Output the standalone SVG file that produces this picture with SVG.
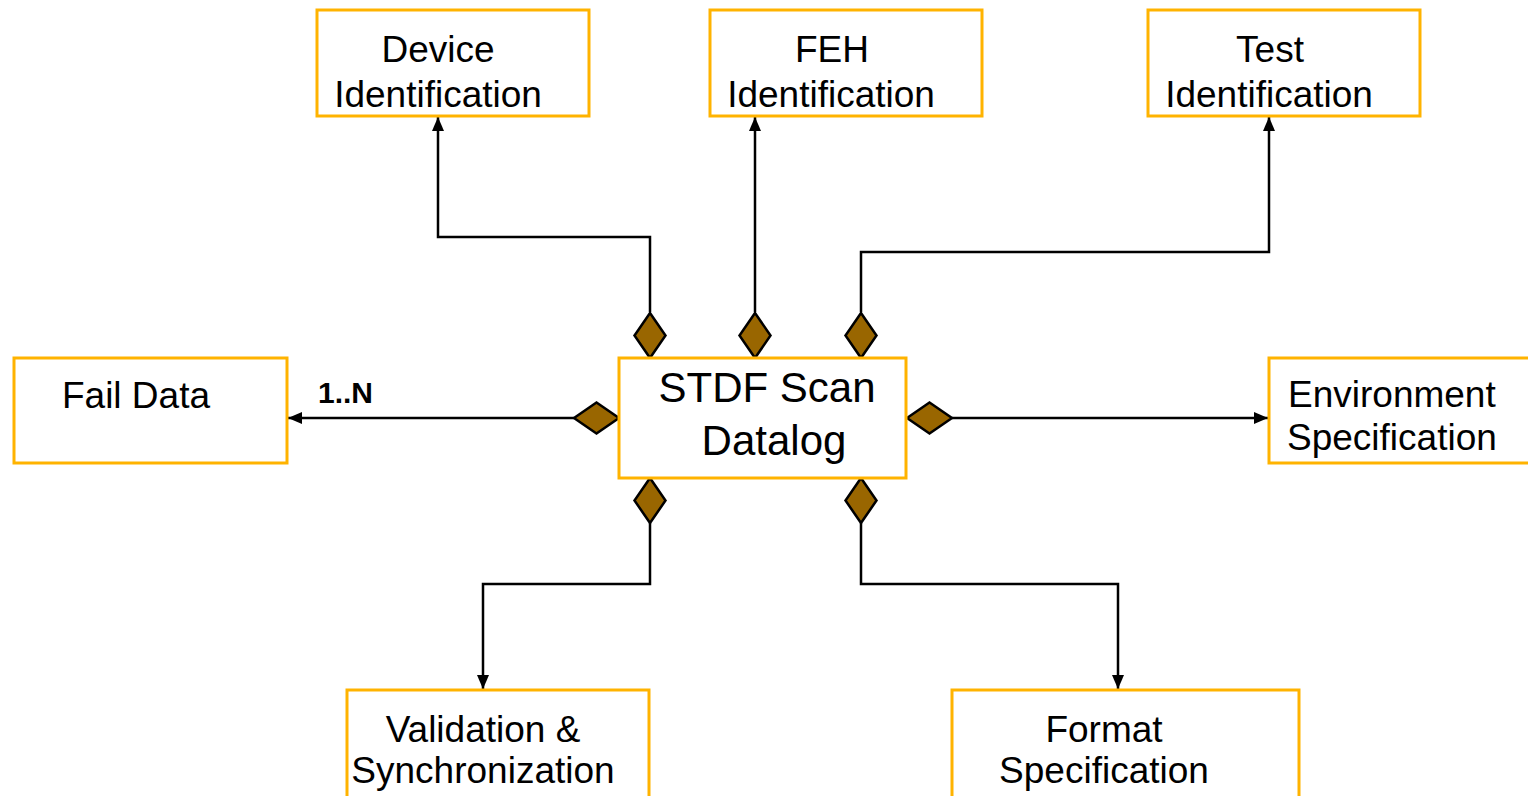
<svg xmlns="http://www.w3.org/2000/svg" width="1528" height="796" viewBox="0 0 1528 796">
<style>
.box{fill:#fff;stroke:#FFB300;stroke-width:3}
.t{font-family:"Liberation Sans",Arial,sans-serif;font-size:37px;fill:#000}
.c{text-anchor:middle}
.line{fill:none;stroke:#000;stroke-width:2.5}
.dia{fill:#996600;stroke:#000;stroke-width:2.5;stroke-linejoin:miter}
</style>
<defs>
<marker id="arr" viewBox="0 0 14 12" refX="14" refY="6" markerWidth="14" markerHeight="12" markerUnits="userSpaceOnUse" orient="auto">
<path d="M0,0 L14,6 L0,12 Z" fill="#000"/>
</marker>
</defs>
<g id="connectors">
<path class="line" d="M650,312 V237 H438 V117" marker-end="url(#arr)"/>
<path class="line" d="M755,312 V117" marker-end="url(#arr)"/>
<path class="line" d="M861,312 V252 H1269 V117" marker-end="url(#arr)"/>
<path class="line" d="M574,418 H288" marker-end="url(#arr)"/>
<path class="line" d="M952,418 H1268" marker-end="url(#arr)"/>
<path class="line" d="M650,523 V584 H483 V689" marker-end="url(#arr)"/>
<path class="line" d="M861,523 V584 H1118 V689" marker-end="url(#arr)"/>
<polygon class="dia" points="650,313 665.5,335.5 650,358 634.5,335.5"/>
<polygon class="dia" points="755,313 770.5,335.5 755,358 739.5,335.5"/>
<polygon class="dia" points="861,313 876.5,335.5 861,358 845.5,335.5"/>
<polygon class="dia" points="574,418 596.5,402.5 619,418 596.5,433.5"/>
<polygon class="dia" points="907,418 929.5,402.5 952,418 929.5,433.5"/>
<polygon class="dia" points="650,478 665.5,500.5 650,523 634.5,500.5"/>
<polygon class="dia" points="861,478 876.5,500.5 861,523 845.5,500.5"/>
<text x="318" y="403" style="font-family:'Liberation Sans',Arial,sans-serif;font-size:30px;font-weight:bold">1..N</text>
</g>
<g id="stdf">
<rect class="box" x="619" y="358" width="287" height="120"/>
<text class="t" x="767" y="402" text-anchor="middle" style="font-size:42px">STDF Scan</text>
<text class="t" x="774" y="455" text-anchor="middle" style="font-size:42px">Datalog</text>
</g>
<g id="device">
<rect class="box" x="317" y="10" width="272" height="106"/>
<text class="t c" x="438" y="62">Device</text>
<text class="t c" x="438" y="107">Identification</text>
</g>
<g id="feh">
<rect class="box" x="710" y="10" width="272" height="106"/>
<text class="t c" x="832" y="62">FEH</text>
<text class="t c" x="831" y="107">Identification</text>
</g>
<g id="test">
<rect class="box" x="1148" y="10" width="272" height="106"/>
<text class="t c" x="1270" y="62">Test</text>
<text class="t c" x="1269" y="107">Identification</text>
</g>
<g id="faildata">
<rect class="box" x="14" y="358" width="273" height="105"/>
<text class="t c" x="136" y="408">Fail Data</text>
</g>
<g id="environment">
<rect class="box" x="1269" y="358" width="262" height="105"/>
<text class="t" x="1288" y="407">Environment</text>
<text class="t" x="1287" y="450">Specification</text>
</g>
<g id="validation">
<rect class="box" x="347" y="690" width="302" height="110"/>
<text class="t c" x="483" y="742">Validation &amp;</text>
<text class="t c" x="483" y="783">Synchronization</text>
</g>
<g id="format">
<rect class="box" x="952" y="690" width="347" height="110"/>
<text class="t c" x="1104" y="742">Format</text>
<text class="t c" x="1104" y="783">Specification</text>
</g>
</svg>
